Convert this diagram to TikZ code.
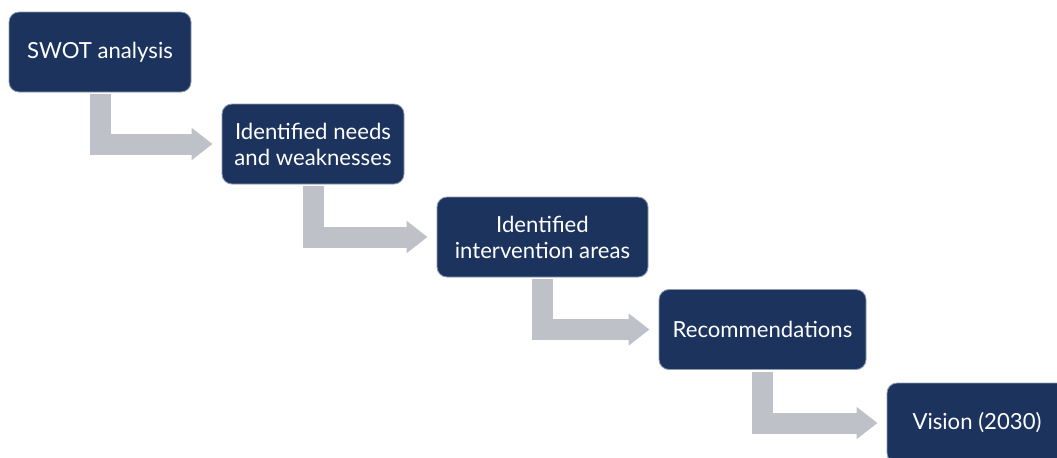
\documentclass[tikz,border=0pt]{standalone}
\usepackage{fontspec}
\setmainfont{Lato}
\usetikzlibrary{arrows.meta}
\definecolor{boxblue}{RGB}{28,51,94}
\definecolor{flowgrey}{RGB}{190,193,199}

\begin{document}
\begin{tikzpicture}[
   stepbox/.style={fill=boxblue,draw=boxblue!50!white,line width=0.5pt,rounded corners=0.2cm,
      text=white,align=center,minimum height=1.6cm,font=\fontsize{12.6}{14.8}\selectfont},
   flow/.style={draw=flowgrey,line width=0.42cm,shorten <=0.04cm,shorten >=0.18cm,
      -{Triangle[length=0.42cm,width=0.62cm]}}]
   \useasboundingbox (0,0) rectangle (21.14,-9.14);
   \clip (0,0) rectangle (21.14,-9.14);
   \node[stepbox,minimum width=3.64cm] (swot) at (2.0,-1.04) {SWOT analysis};
   \node[stepbox,minimum width=3.64cm] (needs) at (6.26,-2.88) {Identified needs\\and weaknesses};
   \node[stepbox,minimum width=4.22cm] (areas) at (10.85,-4.74) {Identified\\intervention areas};
   \node[stepbox,minimum width=4.14cm] (recs) at (15.25,-6.59) {Recommendations};
   \node[stepbox,minimum width=3.6cm] (vision) at (19.54,-8.46) {Vision (2030)};
   \draw[flow] (swot.south) |- (needs.west);
   \draw[flow] (needs.south) |- (areas.west);
   \draw[flow] (areas.south) |- (recs.west);
   \draw[flow] (recs.south) |- (vision.west);
\end{tikzpicture}
\end{document}
